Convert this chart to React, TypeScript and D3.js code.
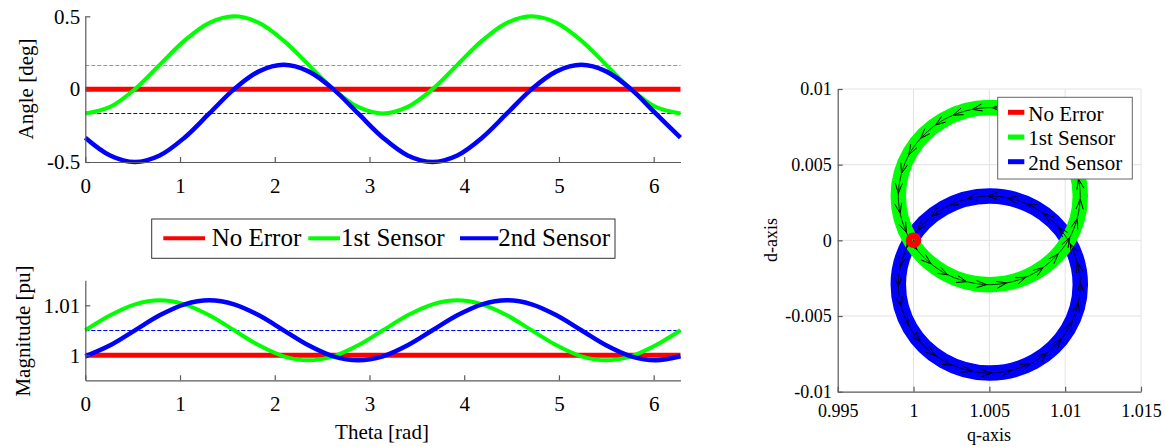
import React, { useEffect, useRef } from 'react';
import * as d3 from 'd3';

// rotor angle in rad, sampled every pi/12
const theta = [0, 0.262, 0.524, 0.785, 1.047, 1.309, 1.571, 1.833, 2.094, 2.356, 2.618, 2.880, 3.142,
  3.403, 3.665, 3.927, 4.189, 4.451, 4.712, 4.974, 5.236, 5.498, 5.760, 6.021, 6.283];

// angle error [deg]
const angleNoError = [0, 0, 0, 0, 0, 0, 0, 0, 0, 0, 0, 0, 0, 0, 0, 0, 0, 0, 0, 0, 0, 0, 0, 0, 0];
const angleSensor1 = [-0.167, -0.122, 0, 0.167, 0.333, 0.455, 0.5, 0.455, 0.333, 0.167, 0, -0.122, -0.167,
  -0.122, 0, 0.167, 0.333, 0.455, 0.5, 0.455, 0.333, 0.167, 0, -0.122, -0.167];
const angleSensor2 = [-0.333, -0.455, -0.5, -0.455, -0.333, -0.167, 0, 0.122, 0.167, 0.122, 0, -0.167, -0.333,
  -0.455, -0.5, -0.455, -0.333, -0.167, 0, 0.122, 0.167, 0.122, 0, -0.167, -0.333];

// magnitude [pu]
const magNoError = [1, 1, 1, 1, 1, 1, 1, 1, 1, 1, 1, 1, 1, 1, 1, 1, 1, 1, 1, 1, 1, 1, 1, 1, 1];
const magSensor1 = [1.005, 1.008, 1.0102, 1.011, 1.0102, 1.008, 1.005, 1.002, 0.9998, 0.999, 0.9998, 1.002, 1.005,
  1.008, 1.0102, 1.011, 1.0102, 1.008, 1.005, 1.002, 0.9998, 0.999, 0.9998, 1.002, 1.005];
const magSensor2 = [0.9998, 1.002, 1.005, 1.008, 1.0102, 1.011, 1.0102, 1.008, 1.005, 1.002, 0.9998, 0.999, 0.9998,
  1.002, 1.005, 1.008, 1.0102, 1.011, 1.0102, 1.008, 1.005, 1.002, 0.9998, 0.999, 0.9998];

// mean values (dotted reference lines), sensor 1 then sensor 2
const angleMean = [0.167, -0.167];
const magMean = [1.005, 1.005];

const seriesNames = ['No Error', '1st Sensor', '2nd Sensor'];
const seriesColors = ['#ff0000', '#00ff00', '#0000ff'];

const thetaTicks = [0, 1, 2, 3, 4, 5, 6];
const angleTicks = [-0.5, 0, 0.5];
const magTicks = [1, 1.01];
const qTicks = [0.995, 1, 1.005, 1.01, 1.015];
const dTicks = [-0.01, -0.005, 0, 0.005, 0.01];

const FONT = "'Liberation Serif', 'Times New Roman', serif";
const AXIS = '#5a5a5a';

const App = () => {
  const svgRef = useRef<SVGSVGElement>(null);

  useEffect(() => {
    const svg = d3.select(svgRef.current);
    svg.selectAll('*').remove();

    const x = d3.scaleLinear().domain([0, 2 * Math.PI]).range([85.3, 680.5]);
    const yAng = d3.scaleLinear().domain([-0.5, 0.5]).range([162, 16.3]);
    const yMag = d3.scaleLinear().domain([0.995, 1.015]).range([380.3, 280.3]);

    const styleAxis = (g: any, size: number) => {
      g.attr('font-family', FONT).attr('font-size', size);
      g.select('.domain').attr('stroke', AXIS).attr('stroke-width', 1.2);
      g.selectAll('.tick line').attr('stroke', AXIS).attr('stroke-width', 1.2);
      g.selectAll('.tick text')
        .attr('fill', '#000')
        .style('font-family', FONT)
        .style('font-size', `${size}px`);
    };

    const drawLeft = (y: any, ticks: number[], series: number[][], means: number[]) => {
      const g = svg.append('g');
      const [y0] = y.range();

      // mean lines
      means.forEach((m, i) => {
        g.append('line')
          .attr('x1', x(0)).attr('x2', x(2 * Math.PI))
          .attr('y1', Math.round(y(m)) + 0.5).attr('y2', Math.round(y(m)) + 0.5)
          .attr('stroke', seriesColors[i + 1])
          .attr('stroke-width', 1.1)
          .attr('stroke-dasharray', '4,2');
      });

      const line = d3.line<number>()
        .x((_, i) => x(theta[i]))
        .y(d => y(d))
        .curve(d3.curveCatmullRom.alpha(0.5));

      const widths = [5, 4, 4.5];
      series.forEach((s, i) => {
        g.append('path')
          .attr('d', line(s))
          .attr('fill', 'none')
          .attr('stroke', seriesColors[i])
          .attr('stroke-width', widths[i]);
      });

      const xAxis = g.append('g')
        .attr('transform', `translate(0, ${y0})`)
        .call(d3.axisBottom(x).tickValues(thetaTicks).tickFormat(d => String(d))
          .tickSizeInner(-5).tickSizeOuter(0).tickPadding(16));
      styleAxis(xAxis, 21);

      const yAxis = g.append('g')
        .attr('transform', `translate(${x(0)}, 0)`)
        .call(d3.axisLeft(y).tickValues(ticks).tickFormat(d => String(d))
          .tickSizeInner(-5).tickSizeOuter(0).tickPadding(5));
      styleAxis(yAxis, 21);
      return g;
    };

    drawLeft(yAng, angleTicks, [angleNoError, angleSensor1, angleSensor2], angleMean);
    drawLeft(yMag, magTicks, [magNoError, magSensor1, magSensor2], magMean);

    // axis labels, left side
    svg.append('text')
      .attr('transform', 'translate(33, 89) rotate(-90)')
      .attr('text-anchor', 'middle')
      .attr('font-family', FONT).attr('font-size', 21)
      .text('Angle [deg]');
    svg.append('text')
      .attr('transform', 'translate(29.5, 331) rotate(-90)')
      .attr('text-anchor', 'middle')
      .attr('font-family', FONT).attr('font-size', 21)
      .text('Magnitude [pu]');
    svg.append('text')
      .attr('x', 382).attr('y', 439)
      .attr('text-anchor', 'middle')
      .attr('font-family', FONT).attr('font-size', 21)
      .text('Theta [rad]');

    // shared legend between left plots
    const leg = svg.append('g');
    leg.append('rect')
      .attr('x', 151.7).attr('y', 219).attr('width', 463.3).attr('height', 39.3)
      .attr('fill', '#fff').attr('stroke', '#333').attr('stroke-width', 1);
    const legLines = [[163.3, 205], [308.3, 340], [460, 498.3]];
    const legText = [211.7, 341, 498.3];
    seriesNames.forEach((name, i) => {
      leg.append('line')
        .attr('x1', legLines[i][0]).attr('x2', legLines[i][1])
        .attr('y1', 238.3).attr('y2', 238.3)
        .attr('stroke', seriesColors[i]).attr('stroke-width', 4);
      leg.append('text')
        .attr('x', legText[i]).attr('y', 245.7)
        .attr('font-family', FONT).attr('font-size', 25)
        .text(name);
    });

    // ---- d-q plane ----
    const qS = d3.scaleLinear().domain([0.995, 1.015]).range([837.7, 1141]);
    const dS = d3.scaleLinear().domain([-0.01, 0.01]).range([391.7, 89]);
    const right = svg.append('g');

    // grid
    qTicks.slice(1).forEach(q => {
      right.append('line')
        .attr('x1', qS(q)).attr('x2', qS(q)).attr('y1', dS(-0.01)).attr('y2', dS(0.01))
        .attr('stroke', '#e3e3e3').attr('stroke-width', 1);
    });
    dTicks.slice(1).forEach(d => {
      right.append('line')
        .attr('x1', qS(0.995)).attr('x2', qS(1.015)).attr('y1', dS(d)).attr('y2', dS(d))
        .attr('stroke', '#e3e3e3').attr('stroke-width', 1);
    });

    const ringPts = (M: number[], A: number[]) =>
      M.slice(0, 12).map((m, i) => [
        qS(m * Math.cos(A[i] * Math.PI / 180)),
        dS(m * Math.sin(A[i] * Math.PI / 180)),
      ] as [number, number]);

    const ringLine = d3.line().curve(d3.curveCatmullRomClosed.alpha(0.5));
    const rings = [
      { pts: ringPts(magSensor2, angleSensor2), color: seriesColors[2] },
      { pts: ringPts(magSensor1, angleSensor1), color: seriesColors[1] },
    ];
    rings.forEach(r => {
      right.append('path')
        .attr('d', ringLine(r.pts))
        .attr('fill', 'none')
        .attr('stroke', r.color)
        .attr('stroke-width', 15.5);
    });

    // direction arrows along each locus
    rings.forEach(r => {
      const p = right.append('path')
        .attr('d', ringLine(r.pts))
        .attr('fill', 'none')
        .attr('stroke', '#000')
        .attr('stroke-width', 0.8);
      const node = p.node() as SVGPathElement;
      const len = node.getTotalLength();
      const n = 28;
      for (let i = 0; i < n; i++) {
        const L = (i + 0.5) * len / n;
        const tip = node.getPointAtLength(L);
        const back = node.getPointAtLength(Math.max(0, L - 2));
        let tx = tip.x - back.x, ty = tip.y - back.y;
        const norm = Math.hypot(tx, ty) || 1;
        tx /= norm; ty /= norm;
        const bx = tip.x - tx * 10, by = tip.y - ty * 10;
        right.append('path')
          .attr('d', `M${bx - ty * 3.5},${by + tx * 3.5}L${tip.x},${tip.y}L${bx + ty * 3.5},${by - tx * 3.5}`)
          .attr('fill', 'none')
          .attr('stroke', '#000')
          .attr('stroke-width', 1);
      }
    });

    // no-error operating point
    right.append('circle')
      .attr('cx', qS(magNoError[0])).attr('cy', dS(angleNoError[0]))
      .attr('r', 4.5)
      .attr('fill', 'none')
      .attr('stroke', seriesColors[0])
      .attr('stroke-width', 6.5);

    const qAxis = right.append('g')
      .attr('transform', `translate(0, ${dS(-0.01)})`)
      .call(d3.axisBottom(qS).tickValues(qTicks).tickFormat(d => String(d))
        .tickSizeInner(-5).tickSizeOuter(0).tickPadding(13));
    styleAxis(qAxis, 18);
    const dAxis = right.append('g')
      .attr('transform', `translate(${qS(0.995)}, 0)`)
      .call(d3.axisLeft(dS).tickValues(dTicks).tickFormat(d => String(d))
        .tickSizeInner(-5).tickSizeOuter(0).tickPadding(6));
    styleAxis(dAxis, 18);

    right.append('text')
      .attr('x', 989).attr('y', 441)
      .attr('text-anchor', 'middle')
      .attr('font-family', FONT).attr('font-size', 18)
      .text('q-axis');
    right.append('text')
      .attr('transform', 'translate(777, 240) rotate(-90)')
      .attr('text-anchor', 'middle')
      .attr('font-family', FONT).attr('font-size', 18)
      .text('d-axis');

    // legend, d-q plot
    const leg2 = right.append('g');
    leg2.append('rect')
      .attr('x', 997.7).attr('y', 97.3).attr('width', 134.6).attr('height', 81.7)
      .attr('fill', '#fff').attr('stroke', '#666').attr('stroke-width', 1);
    seriesNames.forEach((name, i) => {
      const cy = 112.3 + i * 24.7;
      leg2.append('line')
        .attr('x1', 1008).attr('x2', 1024.3)
        .attr('y1', cy).attr('y2', cy)
        .attr('stroke', seriesColors[i]).attr('stroke-width', 5);
      leg2.append('text')
        .attr('x', 1028.3).attr('y', cy + 8.4)
        .attr('font-family', FONT).attr('font-size', 21)
        .text(name);
    });
  }, []);

  return (
    <svg
      ref={svgRef}
      width={1165}
      height={447}
      style={{ position: 'absolute', left: 0, top: 0, background: '#fff' }}
    />
  );
};

export default App;
